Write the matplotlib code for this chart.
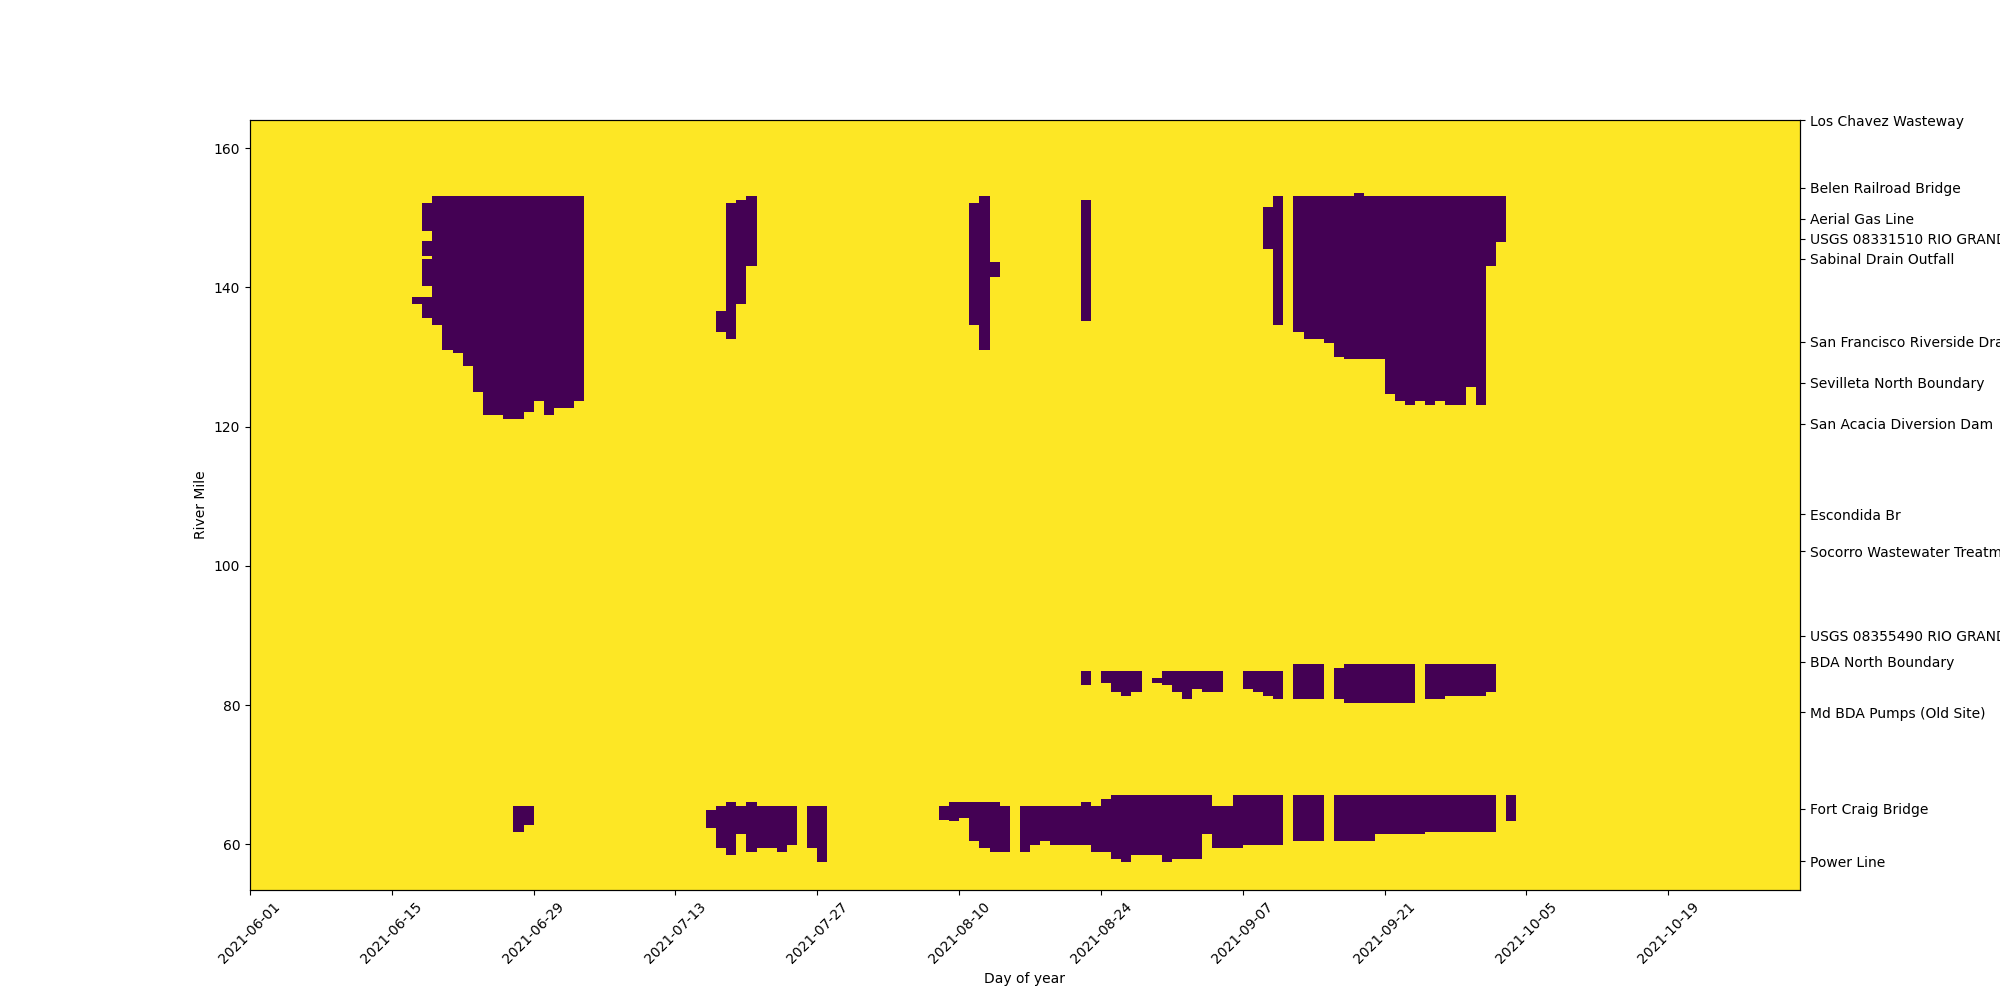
import numpy as np
import pandas as pd
import matplotlib
matplotlib.use("Agg")
import matplotlib.pyplot as plt
import matplotlib.dates as mdates

START = "2021-06-01"
END = "2021-10-31"
MILE_MIN, MILE_MAX, MILE_STEP = 53.5, 164.0, 0.1

# dry spans: (first day, last day, low river mile, high river mile)
UPPER_DRY = [
    ("2021-06-17", "2021-06-17", 137.6, 138.6),
    ("2021-06-18", "2021-06-18", 148.1, 152.1),
    ("2021-06-18", "2021-06-18", 144.6, 146.6),
    ("2021-06-18", "2021-06-18", 140.2, 144.1),
    ("2021-06-18", "2021-06-18", 135.6, 138.6),
    ("2021-06-19", "2021-06-19", 134.6, 153.1),
    ("2021-06-20", "2021-06-20", 131.1, 153.1),
    ("2021-06-21", "2021-06-21", 130.7, 153.1),
    ("2021-06-22", "2021-06-22", 128.7, 153.1),
    ("2021-06-23", "2021-06-23", 125.1, 153.1),
    ("2021-06-24", "2021-06-25", 121.7, 153.1),
    ("2021-06-26", "2021-06-27", 121.2, 153.1),
    ("2021-06-28", "2021-06-28", 122.2, 153.1),
    ("2021-06-29", "2021-06-29", 123.7, 153.1),
    ("2021-06-30", "2021-06-30", 121.7, 153.1),
    ("2021-07-01", "2021-07-02", 122.7, 153.1),
    ("2021-07-03", "2021-07-03", 123.7, 153.1),
    ("2021-07-17", "2021-07-17", 133.6, 136.6),
    ("2021-07-18", "2021-07-18", 132.6, 152.1),
    ("2021-07-19", "2021-07-19", 137.6, 152.5),
    ("2021-07-20", "2021-07-20", 143.1, 153.1),
    ("2021-08-11", "2021-08-11", 134.6, 152.1),
    ("2021-08-12", "2021-08-12", 131.1, 153.1),
    ("2021-08-13", "2021-08-13", 141.6, 143.6),
    ("2021-08-22", "2021-08-22", 135.2, 152.5),
    ("2021-09-09", "2021-09-09", 145.6, 151.5),
    ("2021-09-10", "2021-09-10", 134.6, 153.1),
    ("2021-09-12", "2021-09-12", 133.6, 153.1),
    ("2021-09-13", "2021-09-14", 132.6, 153.1),
    ("2021-09-15", "2021-09-15", 132.1, 153.1),
    ("2021-09-16", "2021-09-16", 130.1, 153.1),
    ("2021-09-17", "2021-09-17", 129.7, 153.1),
    ("2021-09-18", "2021-09-18", 129.7, 153.5),
    ("2021-09-19", "2021-09-20", 129.7, 153.1),
    ("2021-09-21", "2021-09-21", 124.7, 153.1),
    ("2021-09-22", "2021-09-22", 123.7, 153.1),
    ("2021-09-23", "2021-09-23", 123.2, 153.1),
    ("2021-09-24", "2021-09-24", 123.7, 153.1),
    ("2021-09-25", "2021-09-25", 123.2, 153.1),
    ("2021-09-26", "2021-09-26", 123.7, 153.1),
    ("2021-09-27", "2021-09-28", 123.2, 153.1),
    ("2021-09-29", "2021-09-29", 125.7, 153.1),
    ("2021-09-30", "2021-09-30", 123.2, 153.1),
    ("2021-10-01", "2021-10-01", 143.1, 153.1),
    ("2021-10-02", "2021-10-02", 146.6, 153.1),
]

MIDDLE_DRY = [
    ("2021-08-22", "2021-08-22", 82.9, 84.9),
    ("2021-08-24", "2021-08-24", 83.3, 84.9),
    ("2021-08-25", "2021-08-25", 81.9, 84.9),
    ("2021-08-26", "2021-08-26", 81.3, 84.9),
    ("2021-08-27", "2021-08-27", 81.9, 84.9),
    ("2021-08-29", "2021-08-29", 83.3, 83.9),
    ("2021-08-30", "2021-08-30", 82.9, 84.9),
    ("2021-08-31", "2021-08-31", 81.9, 84.9),
    ("2021-09-01", "2021-09-01", 80.9, 84.9),
    ("2021-09-02", "2021-09-02", 82.3, 84.9),
    ("2021-09-03", "2021-09-04", 81.9, 84.9),
    ("2021-09-07", "2021-09-07", 82.3, 84.9),
    ("2021-09-08", "2021-09-08", 81.9, 84.9),
    ("2021-09-09", "2021-09-09", 81.3, 84.9),
    ("2021-09-10", "2021-09-10", 80.9, 84.9),
    ("2021-09-12", "2021-09-14", 80.9, 85.8),
    ("2021-09-16", "2021-09-16", 80.9, 85.3),
    ("2021-09-17", "2021-09-23", 80.3, 85.8),
    ("2021-09-25", "2021-09-26", 80.9, 85.8),
    ("2021-09-27", "2021-09-30", 81.3, 85.8),
    ("2021-10-01", "2021-10-01", 81.9, 85.8),
]

LOWER_DRY = [
    ("2021-06-27", "2021-06-27", 61.8, 65.4),
    ("2021-06-28", "2021-06-28", 62.8, 65.4),
    ("2021-07-16", "2021-07-16", 62.4, 64.9),
    ("2021-07-17", "2021-07-17", 59.5, 65.4),
    ("2021-07-18", "2021-07-18", 58.5, 66.0),
    ("2021-07-19", "2021-07-19", 61.5, 65.4),
    ("2021-07-20", "2021-07-20", 58.9, 66.0),
    ("2021-07-21", "2021-07-22", 59.5, 65.4),
    ("2021-07-23", "2021-07-23", 58.9, 65.4),
    ("2021-07-24", "2021-07-24", 59.9, 65.4),
    ("2021-07-26", "2021-07-26", 59.5, 65.4),
    ("2021-07-27", "2021-07-27", 57.5, 65.4),
    ("2021-08-08", "2021-08-08", 63.5, 65.4),
    ("2021-08-09", "2021-08-09", 63.4, 66.0),
    ("2021-08-10", "2021-08-10", 63.9, 66.0),
    ("2021-08-11", "2021-08-11", 60.5, 66.0),
    ("2021-08-12", "2021-08-12", 59.5, 66.0),
    ("2021-08-13", "2021-08-13", 58.9, 66.0),
    ("2021-08-14", "2021-08-14", 58.9, 65.4),
    ("2021-08-16", "2021-08-16", 58.9, 65.4),
    ("2021-08-17", "2021-08-17", 59.9, 65.4),
    ("2021-08-18", "2021-08-18", 60.5, 65.4),
    ("2021-08-19", "2021-08-21", 59.9, 65.4),
    ("2021-08-22", "2021-08-22", 59.9, 66.0),
    ("2021-08-23", "2021-08-23", 58.9, 65.4),
    ("2021-08-24", "2021-08-24", 58.9, 66.4),
    ("2021-08-25", "2021-08-25", 57.9, 67.0),
    ("2021-08-26", "2021-08-26", 57.5, 67.0),
    ("2021-08-27", "2021-08-29", 58.5, 67.0),
    ("2021-08-30", "2021-08-30", 57.5, 67.0),
    ("2021-08-31", "2021-09-02", 57.9, 67.0),
    ("2021-09-03", "2021-09-03", 61.5, 67.0),
    ("2021-09-04", "2021-09-05", 59.5, 65.4),
    ("2021-09-06", "2021-09-06", 59.5, 67.0),
    ("2021-09-07", "2021-09-10", 59.9, 67.0),
    ("2021-09-12", "2021-09-14", 60.5, 67.0),
    ("2021-09-16", "2021-09-19", 60.5, 67.0),
    ("2021-09-20", "2021-09-24", 61.5, 67.0),
    ("2021-09-25", "2021-10-01", 61.8, 67.0),
    ("2021-10-03", "2021-10-03", 63.4, 67.0),
]

LANDMARK_MILES = [164.0, 154.3, 149.9, 147.0, 144.1, 132.2, 126.3, 120.4,
                  107.4, 102.1, 90.0, 86.2, 79.0, 65.1, 57.6]
LANDMARK_NAMES = [
    "Los Chavez Wasteway",
    "Belen Railroad Bridge",
    "Aerial Gas Line",
    "USGS 08331510 RIO GRANDE AT STATE HWY 346 NEAR BOSQUE, NM",
    "Sabinal Drain Outfall",
    "San Francisco Riverside Drain",
    "Sevilleta North Boundary",
    "San Acacia Diversion Dam",
    "Escondida Br",
    "Socorro Wastewater Treatment Plant",
    "USGS 08355490 RIO GRANDE ABOVE US HWY 380 NR SAN ANTONIO, NM",
    "BDA North Boundary",
    "Md BDA Pumps (Old Site)",
    "Fort Craig Bridge",
    "Power Line",
]

days = pd.date_range(START, END, freq="D")
miles = np.round(np.arange(MILE_MIN, MILE_MAX + MILE_STEP / 2, MILE_STEP), 2)

wet = np.ones((len(miles), len(days)))
for first, last, lo, hi in UPPER_DRY + MIDDLE_DRY + LOWER_DRY:
    cols = (days >= first) & (days <= last)
    rows = (miles >= lo - 1e-6) & (miles <= hi + 1e-6)
    wet[np.ix_(rows, cols)] = 0

x_edges = pd.date_range(START, periods=len(days) + 1, freq="D").to_numpy()
y_edges = np.append(miles - MILE_STEP / 2, miles[-1] + MILE_STEP / 2)

fig, ax = plt.subplots(figsize=(20, 10))
ax.pcolormesh(x_edges, y_edges, wet, cmap="viridis", shading="flat")

ticks = pd.date_range(START, END, freq="14D").to_numpy()
ax.set_xticks(ticks)
ax.xaxis.set_major_formatter(mdates.DateFormatter("%Y-%m-%d"))
plt.setp(ax.get_xticklabels(), rotation=45)
ax.set_xlabel("Day of year")
ax.set_ylabel("River Mile")

ax2 = ax.twinx()
ax2.set_ylim(ax.get_ylim())
ax2.set_yticks(LANDMARK_MILES)
ax2.set_yticklabels(LANDMARK_NAMES)

fig.savefig("out.png", dpi=100)
